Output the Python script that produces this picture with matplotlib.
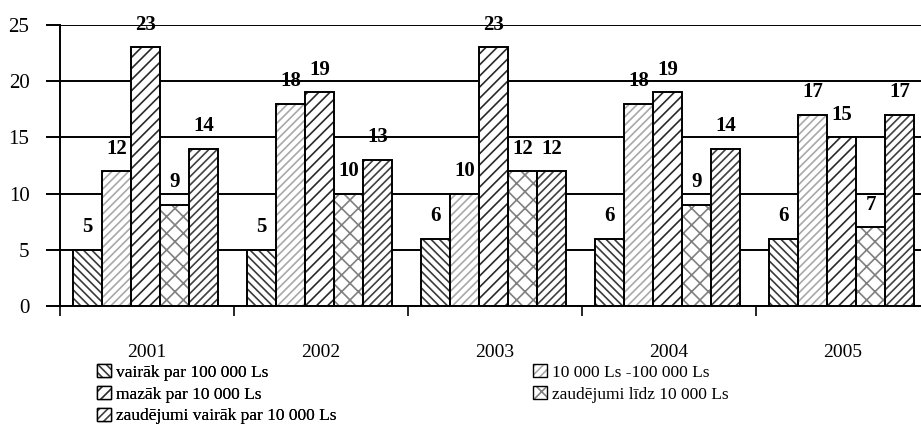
import matplotlib
matplotlib.use("Agg")
import matplotlib.pyplot as plt
from matplotlib.patches import Patch
import numpy as np

years = ["2001", "2002", "2003", "2004", "2005"]
series_names = [
    "vairāk par 100 000 Ls",
    "10 000 Ls -100 000 Ls",
    "mazāk par 10 000 Ls",
    "zaudējumi līdz 10 000 Ls",
    "zaudējumi vairāk par 10 000 Ls",
]
over_100k = [5, 5, 6, 6, 6]
from_10k_to_100k = [12, 18, 10, 18, 17]
under_10k = [23, 19, 23, 19, 15]
loss_under_10k = [9, 10, 12, 9, 7]
loss_over_10k = [14, 13, 12, 14, 17]

series = [over_100k, from_10k_to_100k, under_10k, loss_under_10k, loss_over_10k]
hatches = ["\\\\\\\\", "////", "///", "xx", "////"]
hatch_colors = ["#3a3a3a", "#a8a8a8", "#2a2a2a", "#808080", "#404040"]

plt.rcParams["font.family"] = ["Liberation Serif", "DejaVu Serif"]
plt.rcParams["hatch.linewidth"] = 1.2

fig = plt.figure(figsize=(9.21, 4.48), dpi=100)
ax = fig.add_axes([60 / 921, 1 - 306 / 448, 870 / 921, 281 / 448])

width = 1 / 6
offset = 0.075
groups = np.arange(len(years))
handles = []
for j, vals in enumerate(series):
    x = groups + offset + j * width
    # hatch layer, then black outline on top
    ax.bar(x, vals, width, align="edge", color="white", edgecolor=hatch_colors[j],
           hatch=hatches[j], linewidth=0, zorder=2)
    ax.bar(x, vals, width, align="edge", fill=False, edgecolor="black",
           linewidth=1.4, zorder=3)
    for xi, v in zip(x, vals):
        ax.text(xi + width / 2, v + 2, str(v), ha="center", va="center",
                fontsize=15, fontweight="bold", zorder=4, clip_on=False)
    hp = Patch(facecolor="white", edgecolor=hatch_colors[j], hatch=hatches[j], linewidth=0)
    bp = Patch(facecolor="none", edgecolor="black", linewidth=1.0)
    handles.append((hp, bp))

ax.set_xlim(0, len(years))
ax.set_ylim(0, 25)
ax.set_yticks([0, 5, 10, 15, 20, 25])
ax.yaxis.grid(True, color="black", linewidth=1.4, zorder=1)
ax.set_axisbelow(True)

ax.set_xticks(groups + 0.5)
ax.set_xticklabels(years, fontsize=14)
ax.set_xticks(np.arange(len(years) + 1), minor=True)
ax.tick_params(axis="x", which="major", length=0, pad=27)
ax.tick_params(axis="x", which="minor", length=7, width=1.2, direction="out")
ax.tick_params(axis="y", length=10, width=1.4, direction="out", pad=12, labelsize=15)

for side in ["top", "right"]:
    ax.spines[side].set_visible(False)
for side in ["left", "bottom"]:
    ax.spines[side].set_linewidth(1.4)

leg_kw = dict(loc="upper left", frameon=False, fontsize=12.5, handlelength=0.8,
              handleheight=0.8, handletextpad=0.3, labelspacing=0.3,
              borderpad=0, borderaxespad=0)
leg1 = fig.legend([handles[0], handles[2], handles[4]],
                  [series_names[0], series_names[2], series_names[4]],
                  bbox_to_anchor=(97 / 921, 1 - 364 / 448), **leg_kw)
fig.add_artist(leg1)
fig.legend([handles[1], handles[3]],
           [series_names[1], series_names[3]],
           bbox_to_anchor=(533 / 921, 1 - 364 / 448), **leg_kw)

fig.savefig("out.png", dpi=100)
